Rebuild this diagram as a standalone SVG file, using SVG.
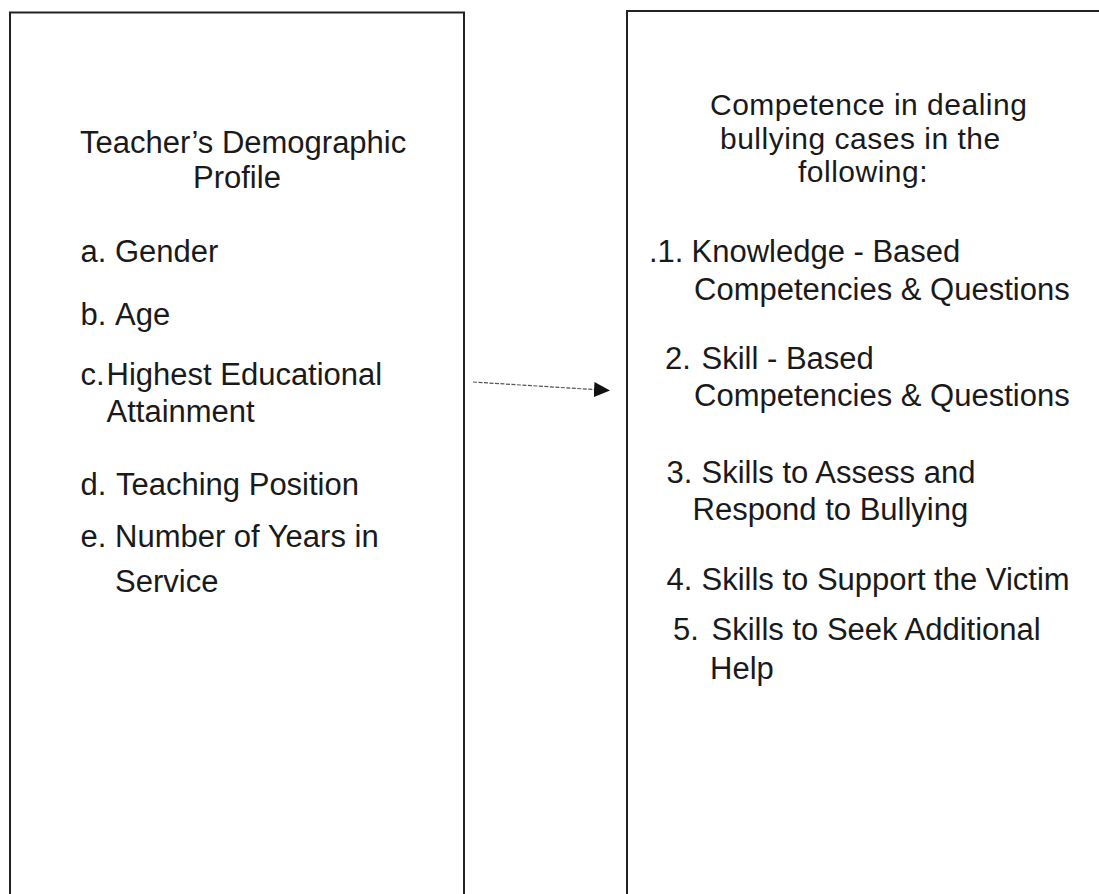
<svg xmlns="http://www.w3.org/2000/svg" width="1099" height="894" viewBox="0 0 1099 894">
<style>
.box{fill:#fff;stroke:#222;stroke-width:2}
.t{font-family:"Liberation Sans",Arial,sans-serif;font-size:31px;fill:#1a1a1a}
.h{font-size:30px;letter-spacing:0.5px}
.conn{stroke:#555;stroke-width:1.2;stroke-dasharray:4,1.5;fill:none}
</style>
<defs>
<marker id="ah" markerWidth="16" markerHeight="15" refX="15" refY="7.5" orient="auto" markerUnits="userSpaceOnUse">
<path d="M0,0 L16,7.5 L0,15 Z" fill="#111"/>
</marker>
</defs>
<rect width="1099" height="894" fill="#fff"/>
<g id="left-node">
<rect class="box" x="10" y="12.5" width="454" height="900"/>
<text class="t" x="80" y="152.5">Teacher’s Demographic</text>
<text class="t" x="193" y="187.5">Profile</text>
<text class="t" y="261.5"><tspan x="80.5">a.</tspan><tspan x="115">Gender</tspan></text>
<text class="t" y="324.5"><tspan x="80.5">b.</tspan><tspan x="115">Age</tspan></text>
<text class="t" y="384.5"><tspan x="80.5">c.</tspan><tspan x="106.5">Highest Educational</tspan></text>
<text class="t" x="106.5" y="421.5">Attainment</text>
<text class="t" y="495"><tspan x="80.5">d.</tspan><tspan x="116">Teaching Position</tspan></text>
<text class="t" y="546.5"><tspan x="80.5">e.</tspan><tspan x="115">Number of Years in</tspan></text>
<text class="t" x="115" y="591.5">Service</text>
</g>
<g id="right-node">
<rect class="box" x="627" y="11" width="500" height="900"/>
<text class="t h" x="710" y="115">Competence in dealing</text>
<text class="t h" x="720" y="148.5">bullying cases in the</text>
<text class="t h" x="798" y="182">following:</text>
<text class="t" y="261.5"><tspan x="649">.1.</tspan><tspan x="691.5">Knowledge - Based</tspan></text>
<text class="t" x="694" y="300">Competencies &amp; Questions</text>
<text class="t" y="368.5"><tspan x="665">2.</tspan><tspan x="701.5">Skill - Based</tspan></text>
<text class="t" x="694" y="405.5">Competencies &amp; Questions</text>
<text class="t" y="482.5"><tspan x="666.5">3.</tspan><tspan x="701.5">Skills to Assess and</tspan></text>
<text class="t" x="692.5" y="520">Respond to Bullying</text>
<text class="t" y="589.5"><tspan x="666.5">4.</tspan><tspan x="701.5">Skills to Support the Victim</tspan></text>
<text class="t" y="640"><tspan x="673">5.</tspan><tspan x="711.5">Skills to Seek Additional</tspan></text>
<text class="t" x="710" y="678.5">Help</text>
</g>
<g id="connectors">
<path class="conn" d="M473,382 L609,390.5" marker-end="url(#ah)"/>
</g>
</svg>
